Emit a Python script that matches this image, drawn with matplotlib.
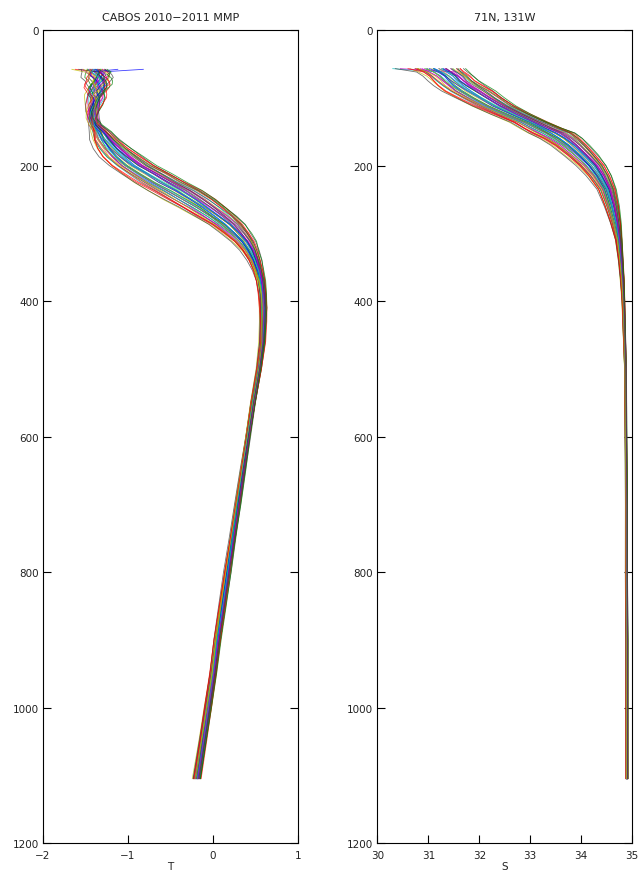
import numpy as np
import matplotlib
matplotlib.use("Agg")
import matplotlib.pyplot as plt

# temperature profiles: depth nodes, bundle centre, bundle half-width, small-scale wiggle size
depth_T = [58, 62, 66, 70, 75, 80, 85, 90, 95, 100, 110, 120, 130, 140, 150, 162, 175, 187,
           200, 212, 225, 237, 250, 262, 275, 287, 300, 312, 325, 340, 355, 370, 390, 410,
           430, 460, 500, 550, 600, 650, 700, 750, 800, 850, 900, 950, 1000, 1050, 1105]
T_mean = [-1.40, -1.38, -1.37, -1.36, -1.35, -1.36, -1.37, -1.37, -1.38, -1.38, -1.40, -1.42,
          -1.42, -1.39, -1.33, -1.27, -1.18, -1.08, -0.95, -0.79, -0.62, -0.44, -0.27, -0.12,
          0.03, 0.16, 0.27, 0.36, 0.43, 0.49, 0.53, 0.56, 0.58, 0.59, 0.59, 0.58, 0.54, 0.47,
          0.41, 0.35, 0.29, 0.23, 0.17, 0.11, 0.05, 0.00, -0.06, -0.12, -0.19]
T_spread = [0.14, 0.14, 0.13, 0.13, 0.12, 0.12, 0.11, 0.10, 0.10, 0.09, 0.08, 0.07, 0.06, 0.08,
            0.12, 0.17, 0.22, 0.26, 0.28, 0.31, 0.33, 0.34, 0.33, 0.30, 0.27, 0.23, 0.19, 0.15,
            0.11, 0.08, 0.06, 0.05, 0.045, 0.045, 0.04, 0.035, 0.03, 0.03, 0.03, 0.035, 0.035,
            0.035, 0.04, 0.04, 0.04, 0.04, 0.045, 0.045, 0.05]
T_wiggle = [0.07, 0.07, 0.07, 0.07, 0.06, 0.06, 0.06, 0.06, 0.05, 0.05, 0.045, 0.04, 0.04, 0.035,
            0.03, 0.025, 0.02, 0.02, 0.02, 0.02, 0.02, 0.02, 0.02, 0.02, 0.02, 0.02, 0.015,
            0.015, 0.015, 0.015, 0.012, 0.012, 0.012, 0.012, 0.01, 0.01, 0.008, 0.008, 0.008,
            0.008, 0.008, 0.008, 0.008, 0.008, 0.008, 0.008, 0.008, 0.008, 0.008]

# salinity profiles
depth_S = [57, 62, 68, 75, 82, 90, 100, 112, 124, 136, 145, 152, 160, 170, 185, 200, 215, 235,
           260, 285, 310, 340, 370, 400, 450, 500, 600, 700, 800, 900, 1000, 1105]
S_mean = [31.15, 31.28, 31.40, 31.50, 31.62, 31.78, 32.00, 32.28, 32.62, 32.98, 33.22, 33.42,
          33.60, 33.78, 34.00, 34.20, 34.35, 34.50, 34.60, 34.68, 34.74, 34.78, 34.81, 34.83,
          34.85, 34.87, 34.88, 34.89, 34.89, 34.90, 34.90, 34.90]
S_spread = [0.60, 0.52, 0.50, 0.50, 0.52, 0.54, 0.50, 0.46, 0.42, 0.40, 0.45, 0.50, 0.45, 0.40,
            0.35, 0.30, 0.25, 0.19, 0.15, 0.11, 0.07, 0.05, 0.04, 0.03, 0.025, 0.02, 0.02, 0.02,
            0.02, 0.02, 0.02, 0.02]
S_wiggle = [0.04, 0.04, 0.04, 0.035, 0.035, 0.03, 0.03, 0.03, 0.03, 0.03, 0.03, 0.03, 0.025,
            0.02, 0.02, 0.02, 0.015, 0.012, 0.01, 0.008, 0.006, 0.005, 0.005, 0.005, 0.006,
            0.006, 0.005, 0.004, 0.004, 0.006, 0.005, 0.004]

# where each profile sits inside the bundle (-1 left edge, +1 right edge)
profile_shift = [0.1, -0.6, 0.8, -0.2, 0.4, -0.9, 0.3, 0.0, -0.4, 0.7, -0.7, 0.5, -0.1, 0.9,
                 -0.3, 0.2, -0.8, 0.6, -0.5, 0.05, 0.35, -0.25, 0.75, -0.65, 0.15, -0.45, 0.55,
                 -0.95, 0.25, -0.15, 0.85, -0.35, 0.45, -0.55, 0.65, -0.05, 0.95, -0.75, 0.0,
                 0.3, -0.3, 0.5]
wiggle_pattern = [0.0, 0.5, 0.9, 1.0, 0.6, 0.1, -0.4, -0.8, -1.0, -0.7, -0.2, 0.3, 0.7]

# odd surface values at the first node of a few profiles
surface_T = {0: -0.82, 5: -1.66, 9: -1.62, 14: -1.12, 20: -1.58, 27: -1.55}
surface_S = {3: 30.3, 11: 30.45, 27: 30.35, 16: 30.6}

matlab_colors = [(0, 0, 1), (0, 0.5, 0), (1, 0, 0), (0, 0.75, 0.75),
                 (0.75, 0, 0.75), (0.75, 0.75, 0), (0.25, 0.25, 0.25)]


def profile(i, mean, spread, wig, surface):
    vals = []
    for k in range(len(mean)):
        w = wiggle_pattern[(5 * i + k) % len(wiggle_pattern)]
        vals.append(mean[k] + profile_shift[i] * spread[k] + w * wig[k])
    if i in surface:
        vals[0] = surface[i]
    return vals


plt.rcParams['font.family'] = ['DejaVu Sans']
plt.rcParams['font.size'] = 7.5

fig = plt.figure(figsize=(6.4, 8.79), dpi=100)
axT = fig.add_axes([0.0672, 0.0398, 0.3984, 0.9249])
axS = fig.add_axes([0.5898, 0.0398, 0.3977, 0.9249])

for i in range(len(profile_shift)):
    c = matlab_colors[i % len(matlab_colors)]
    axT.plot(profile(i, T_mean, T_spread, T_wiggle, surface_T), depth_T, color=c, lw=0.6, alpha=0.75)
    axS.plot(profile(i, S_mean, S_spread, S_wiggle, surface_S), depth_S, color=c, lw=0.6, alpha=0.75)

axT.set_xlim(-2, 1)
axT.set_xticks([-2, -1, 0, 1])
axT.set_title("CABOS 2010\u22122011 MMP", fontsize=8, pad=7, color='#222222')
axT.set_xlabel("T", labelpad=1, color='#222222')

axS.set_xlim(30, 35)
axS.set_xticks([30, 31, 32, 33, 34, 35])
axS.set_title("71N, 131W", fontsize=8, pad=7, color='#222222')
axS.set_xlabel("S", labelpad=1, color='#222222')

for ax in (axT, axS):
    ax.set_ylim(1200, 0)
    ax.set_yticks(range(0, 1201, 200))
    ax.tick_params(direction='in', length=6, width=0.8, right=True, top=False, labelcolor='#222222')
    ax.tick_params(axis='x', pad=5)
    ax.tick_params(axis='y', pad=3)
    for sp in ax.spines.values():
        sp.set_linewidth(0.8)

fig.savefig("out.png", dpi=100)
